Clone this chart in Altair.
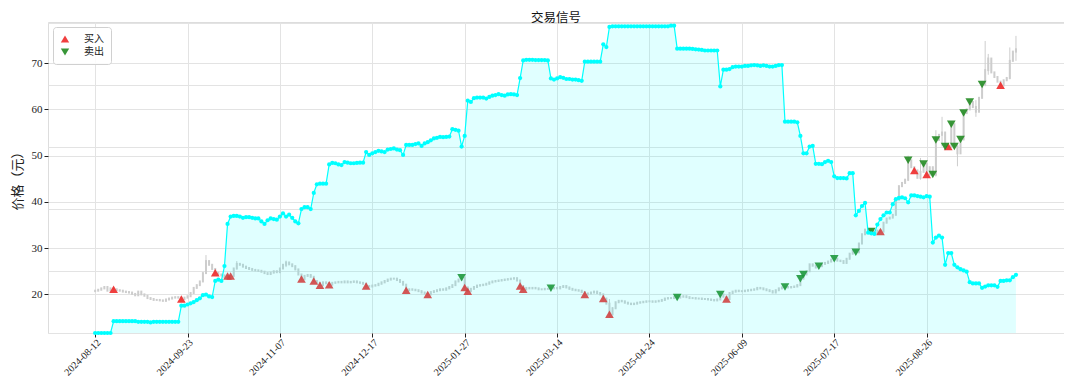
import altair as alt
import pandas as pd

# ---------------- data ----------------
tick_idx = [0, 30, 60, 90, 120, 150, 180, 210, 240, 270]
tick_labels = ["2024-08-12", "2024-09-23", "2024-11-07", "2024-12-17", "2025-01-27",
               "2025-03-14", "2025-04-24", "2025-06-09", "2025-07-17", "2025-08-26"]

first_open = 20.7
closes = [
    20.8, 21.0, 21.3, 21.6, 20.8, 21.3, 21.1, 20.9, 20.8, 20.6,
    20.5, 20.4, 20.1, 19.8, 20.6, 20.0, 19.7, 19.2, 19.0, 18.8,
    18.8, 18.7, 18.6, 18.9, 19.1, 19.3, 19.4, 19.3, 19.0, 19.3,
    19.6, 20.3, 21.4, 22.0, 22.8, 24.6, 27.2, 26.4, 25.5, 24.7,
    24.3, 24.1, 23.8, 24.0, 24.0, 25.6, 26.6, 26.4, 26.0, 25.7,
    25.5, 25.3, 25.2, 25.1, 24.9, 24.6, 24.4, 24.7, 25.0, 24.8,
    25.6, 26.4, 26.9, 26.5, 26.1, 25.4, 24.3, 23.3, 24.0, 24.2,
    23.8, 22.9, 22.5, 22.0, 22.6, 22.4, 22.1, 22.5, 22.6, 22.7,
    22.6, 22.8, 22.6, 22.7, 22.8, 22.6, 22.5, 22.3, 21.8, 21.7,
    21.9, 22.0, 22.3, 22.6, 22.9, 23.2, 23.4, 23.4, 23.1, 22.7,
    22.1, 20.9, 21.1, 21.0, 20.9, 20.7, 20.4, 20.2, 20.0, 20.5,
    20.7, 20.9, 21.1, 21.0, 21.3, 21.6, 22.0, 22.8, 23.2, 23.6,
    21.5, 20.7, 21.2, 21.6, 21.9, 22.0, 22.1, 22.3, 22.6, 22.8,
    22.9, 23.0, 23.1, 23.2, 23.3, 23.4, 23.5, 23.0, 21.8, 21.1,
    21.4, 21.3, 21.4, 21.3, 21.1, 21.1, 21.2, 21.2, 21.3, 21.4,
    21.3, 21.6, 21.8, 21.5, 21.2, 21.0, 20.9, 20.8, 20.5, 20.0,
    20.2, 20.4, 20.6, 20.3, 20.0, 19.1, 18.0, 15.7, 17.0, 18.3,
    18.6, 18.5, 18.2, 18.0, 17.9, 18.0, 18.2, 18.3, 18.4, 18.5,
    18.5, 18.4, 18.5, 18.6, 18.8, 19.1, 19.2, 19.2, 19.4, 19.3,
    19.5, 19.6, 19.4, 19.2, 19.2, 19.1, 19.1, 19.0, 19.0, 18.9,
    18.8, 18.7, 18.9, 20.0, 19.5, 19.0, 20.3, 20.6, 20.8, 20.7,
    20.7, 20.8, 20.9, 21.0, 21.1, 21.4, 21.3, 21.1, 20.9, 20.7,
    20.4, 20.9, 21.3, 21.5, 21.6, 21.5, 21.6, 21.7, 22.0, 23.4,
    24.3, 25.0, 26.5, 26.2, 25.8, 26.1, 26.6, 26.8, 27.1, 27.5,
    27.7, 27.3, 27.2, 26.8, 27.7, 28.8, 29.4, 29.1, 31.0, 33.0,
    34.0, 33.8, 33.6, 33.2, 33.8, 33.6, 35.5, 36.4, 36.6, 37.2,
    40.5, 43.4, 44.1, 44.8, 49.0, 47.5, 46.8, 45.2, 46.5, 48.2,
    45.9, 47.5, 45.9, 53.4, 54.5, 55.0, 52.0, 52.0, 56.8, 52.0,
    50.5, 53.5, 59.2, 60.0, 61.6, 60.5, 59.5, 62.5, 65.4, 68.5,
    71.0, 68.0, 67.0, 66.0, 65.2, 66.3, 66.8, 70.5, 72.5, 73.0,
]

wick_idx = [36, 46, 62, 167, 168, 264, 268, 273, 275, 280, 286, 289, 290, 297, 299]
wick_high = [28.5, 27.2, 27.3, 19.0, 17.2, 50.0, 49.5, 55.5, 58.4, 52.5, 62.0, 74.8, 72.0, 73.4, 75.9]
wick_low = [24.6, 25.4, 25.9, 14.9, 15.5, 44.5, 44.8, 45.5, 52.0, 47.7, 58.4, 65.0, 67.5, 66.5, 70.5]

position = [
    0, 0, 0, 0, 0, 0, 0.19, 0.19, 0.19, 0.19,
    0.19, 0.19, 0.19, 0.19, 0.18, 0.18, 0.18, 0.18, 0.17, 0.18,
    0.18, 0.18, 0.18, 0.18, 0.18, 0.18, 0.18, 0.18, 0.44, 0.44,
    0.46, 0.48, 0.50, 0.53, 0.56, 0.61, 0.62, 0.59, 0.58, 0.84,
    0.86, 0.84, 1.08, 1.76, 1.88, 1.89, 1.89, 1.88, 1.86, 1.87,
    1.87, 1.86, 1.85, 1.85, 1.80, 1.76, 1.82, 1.85, 1.84, 1.83,
    1.88, 1.93, 1.88, 1.91, 1.86, 1.80, 1.77, 2.00, 2.03, 2.03,
    2.00, 2.26, 2.40, 2.41, 2.41, 2.41, 2.72, 2.745, 2.74, 2.72,
    2.71, 2.76, 2.75, 2.74, 2.74, 2.745, 2.75, 2.75, 2.92, 2.875,
    2.90, 2.92, 2.94, 2.93, 2.92, 2.96, 2.97, 2.98, 2.96, 2.95,
    2.875, 3.035, 3.035, 3.035, 3.05, 3.06, 3.02, 3.06, 3.08, 3.11,
    3.14, 3.15, 3.165, 3.16, 3.165, 3.17, 3.29, 3.28, 3.265, 3.01,
    3.18, 3.75, 3.73, 3.79, 3.80, 3.80, 3.80, 3.785, 3.81, 3.83,
    3.84, 3.855, 3.84, 3.83, 3.85, 3.855, 3.85, 3.84, 4.115, 4.40,
    4.41, 4.41, 4.41, 4.405, 4.405, 4.405, 4.405, 4.40, 4.11, 4.09,
    4.11, 4.13, 4.12, 4.10, 4.10, 4.09, 4.09, 4.08, 4.07, 4.38,
    4.38, 4.38, 4.38, 4.38, 4.38, 4.66, 4.615, 4.94, 4.95, 4.95,
    4.95, 4.95, 4.95, 4.95, 4.95, 4.95, 4.95, 4.95, 4.95, 4.95,
    4.95, 4.95, 4.95, 4.95, 4.95, 4.95, 4.95, 4.96, 4.96, 4.59,
    4.59, 4.59, 4.59, 4.59, 4.585, 4.58, 4.575, 4.57, 4.56, 4.56,
    4.56, 4.56, 4.56, 3.98, 4.25, 4.25, 4.26, 4.29, 4.30, 4.30,
    4.30, 4.31, 4.31, 4.32, 4.325, 4.32, 4.31, 4.32, 4.31, 4.30,
    4.30, 4.31, 4.325, 4.325, 3.41, 3.41, 3.41, 3.41, 3.40, 3.18,
    2.90, 2.90, 3.01, 3.02, 2.73, 2.73, 2.725, 2.76, 2.78, 2.76,
    2.53, 2.50, 2.50, 2.50, 2.495, 2.58, 2.58, 1.90, 1.97, 2.05,
    2.10, 1.62, 1.61, 1.60, 1.75, 1.84, 1.90, 1.945, 1.945, 2.08,
    2.16, 2.18, 2.19, 2.175, 2.11, 2.22, 2.22, 2.21, 2.20, 2.19,
    2.21, 2.20, 1.46, 1.54, 1.57, 1.54, 1.10, 1.29, 1.29, 1.10,
    1.06, 1.03, 1.01, 0.99, 0.82, 0.80, 0.80, 0.80, 0.73, 0.75,
    0.77, 0.77, 0.77, 0.745, 0.84, 0.84, 0.85, 0.85, 0.90, 0.94,
]

buy_idx = [6, 28, 39, 43, 44, 67, 71, 73, 76, 88, 101, 108, 120, 121, 138, 139,
           159, 165, 167, 205, 255, 266, 270, 277, 294]
sell_idx = [119, 148, 189, 203, 224, 229, 230, 235, 240, 247, 252, 264, 269, 272,
            273, 276, 278, 279, 281, 282, 284, 288]

price_ticks = [20, 30, 40, 50, 60, 70]
pos_ticks = [0, 1, 2, 3, 4, 5]
signal_names = ["买入", "卖出"]

# ---------------- tables ----------------
n = len(closes)
opens = [first_open] + closes[:-1]
highs = [max(o, c) for o, c in zip(opens, closes)]
lows = [min(o, c) for o, c in zip(opens, closes)]
for k, h, l in zip(wick_idx, wick_high, wick_low):
    highs[k] = max(highs[k], h)
    lows[k] = min(lows[k], l)

df = pd.DataFrame({"i": list(range(n)), "open": opens, "close": closes,
                   "high": highs, "low": lows, "pos": position})
sig = pd.DataFrame({
    "i": buy_idx + sell_idx,
    "price": [closes[k] for k in buy_idx] + [closes[k] for k in sell_idx],
    "type": [signal_names[0]] * len(buy_idx) + [signal_names[1]] * len(sell_idx),
})

CJK = "Noto Sans CJK SC"
SERIF = "Liberation Serif"
GRID = "#e3e3e3"
CANDLE = "#cdcdcd"

label_js = "[" + ",".join("'%s'" % s for s in tick_labels) + "]"
tick_js = "[" + ",".join(str(v) for v in tick_idx) + "]"

x_enc = alt.X("i:Q",
              scale=alt.Scale(domain=[-15.3, 314.6], nice=False, zero=False),
              axis=alt.Axis(values=tick_idx,
                            labelExpr=label_js + "[indexof(" + tick_js + ", datum.value)]",
                            labelAngle=-45, labelAlign="right", labelBaseline="top",
                            labelFont=SERIF, labelFontSize=10, labelColor="#222",
                            labelPadding=0, tickSize=4, tickColor="#222",
                            grid=True, gridColor=GRID, domain=False, title=None))

y_scale = alt.Scale(domain=[11.65, 78.9], nice=False, zero=False)
y_axis = alt.Axis(values=price_ticks, title="价格（元）", titleFont=CJK, titleFontSize=13,
                  titleFontWeight="normal", titleColor="#222", titlePadding=7,
                  labelFont=SERIF, labelFontSize=11, labelColor="#222", labelPadding=2,
                  tickSize=4, tickColor="#222", grid=True, gridColor=GRID, domain=False)

wick = alt.Chart(df).mark_rule(color=CANDLE, strokeWidth=1).encode(
    x=x_enc, y=alt.Y("low:Q", scale=y_scale, axis=y_axis), y2="high:Q")
body = alt.Chart(df).mark_rule(color=CANDLE, strokeWidth=2, strokeCap="square").encode(
    x=x_enc, y=alt.Y("open:Q", scale=y_scale, axis=y_axis), y2="close:Q")
marks = alt.Chart(sig).mark_point(filled=True, size=75, opacity=0.9).encode(
    x=x_enc,
    y=alt.Y("price:Q", scale=y_scale, axis=y_axis),
    color=alt.Color("type:N", scale=alt.Scale(domain=signal_names, range=["#ee2a2a", "#228b22"]),
                    legend=alt.Legend(title=None, orient="top-left", offset=5,
                                      labelFont=CJK, labelFontSize=10, labelColor="#222",
                                      labelOffset=14, padding=7, rowPadding=3,
                                      symbolSize=70, symbolStrokeWidth=0,
                                      fillColor="rgba(255,255,255,0.85)", strokeColor="#d0d0d0",
                                      cornerRadius=3)),
    shape=alt.Shape("type:N", scale=alt.Scale(domain=signal_names,
                                              range=["triangle-up", "triangle-down"]),
                    legend=alt.Legend(title=None, orient="top-left")),
)
price_layer = alt.layer(wick, body, marks)

pos_scale = alt.Scale(domain=[0, 5.02], nice=False, zero=True)
pos_axis = alt.Axis(orient="right", values=pos_ticks, title=None, labels=False,
                    tickSize=4, tickColor="#222", grid=True, gridColor=GRID, domain=False)
area = alt.Chart(df).mark_area(color="cyan", opacity=0.12).encode(
    x=x_enc, y=alt.Y("pos:Q", scale=pos_scale, axis=pos_axis))
line = alt.Chart(df).mark_line(color="cyan", strokeWidth=1.2,
                               point=alt.OverlayMarkDef(filled=True, size=18, color="cyan")).encode(
    x=x_enc, y=alt.Y("pos:Q", scale=pos_scale, axis=pos_axis))
pos_layer = alt.layer(area, line)

chart = (
    alt.layer(price_layer, pos_layer)
    .resolve_scale(y="independent")
    .properties(
        width=1016, height=311,
        title=alt.TitleParams("交易信号", font=CJK, fontSize=12.5, fontWeight="normal",
                              color="#111", anchor="middle", offset=0, dy=2, frame="group"),
        autosize=alt.AutoSizeParams(type="none"),
        padding={"left": 40, "top": 14, "right": 0, "bottom": 47},
    )
    .configure_view(stroke="#222", strokeWidth=1)
    .configure(background="white")
)

chart.save("out.html", embed_options={"renderer": "svg", "actions": False})
